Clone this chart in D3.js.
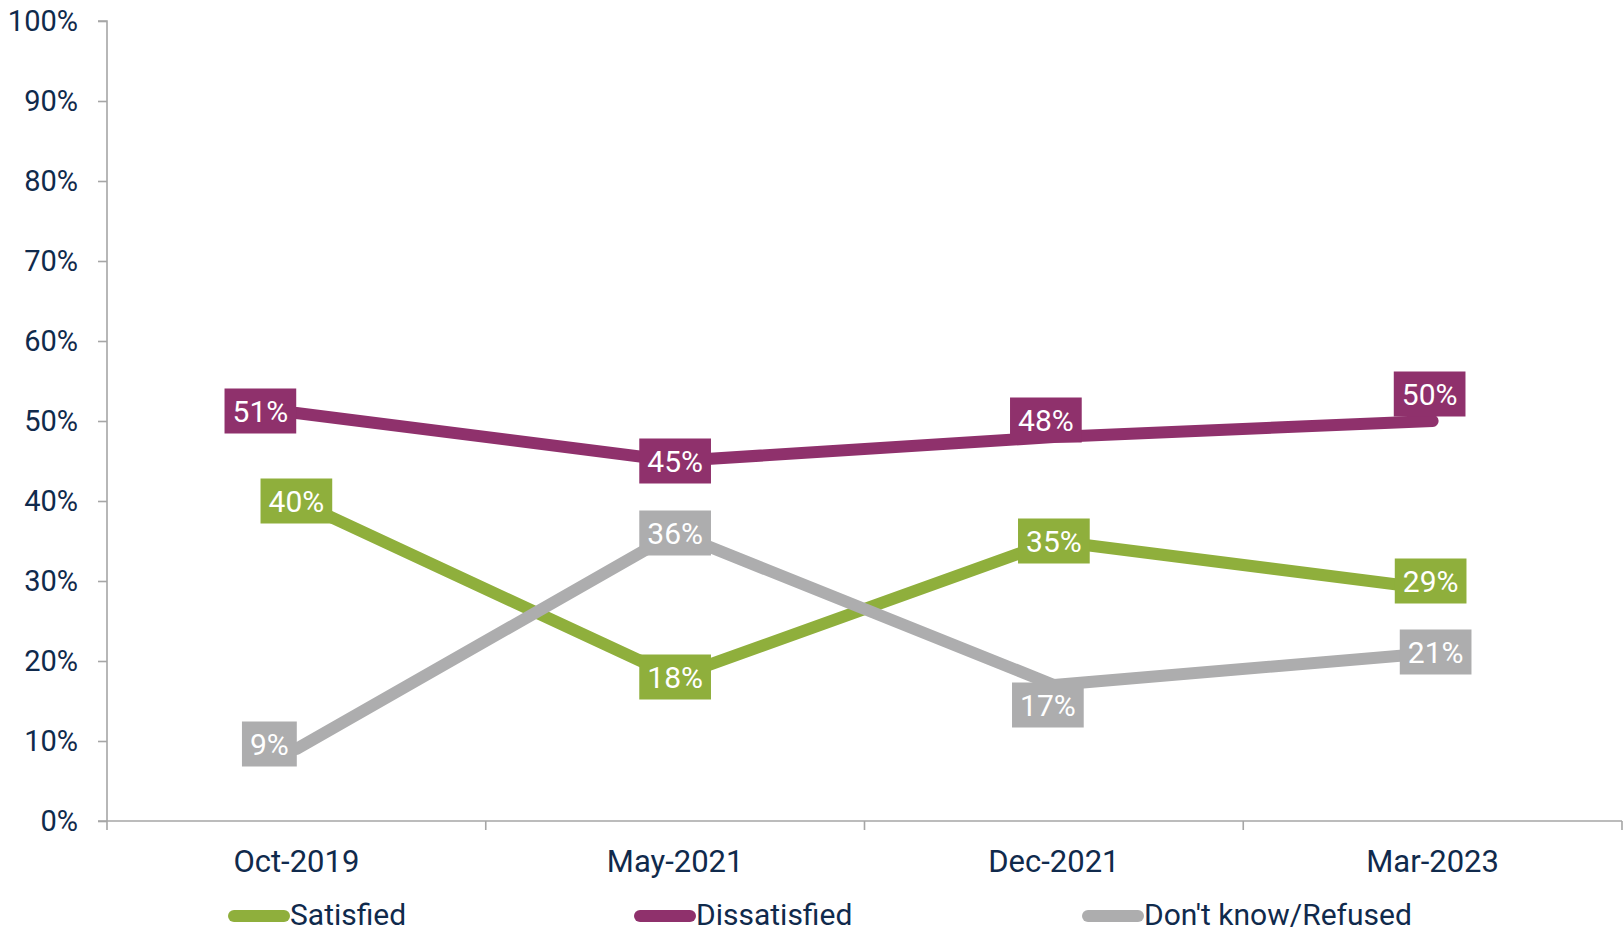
<!DOCTYPE html>
<html>
<head>
<meta charset="utf-8">
<script src="https://cdn.jsdelivr.net/npm/d3@7"></script>
<style>
  html, body { margin: 0; padding: 0; background: #ffffff; }
  svg { display: block; }
  text { font-family: Roboto, "Open Sans", sans-serif; }
</style>
</head>
<body>
<svg id="chart" width="1624" height="933"></svg>
<script>
// ---- data ----
const categories = ["Oct-2019", "May-2021", "Dec-2021", "Mar-2023"];
const seriesNames = ["Satisfied", "Dissatisfied", "Don't know/Refused"];
const satisfied = [0.40, 0.18, 0.35, 0.29];
const dissatisfied = [0.51, 0.45, 0.48, 0.50];
const dontKnow = [0.09, 0.36, 0.17, 0.21];
const yTicks = [0, 0.1, 0.2, 0.3, 0.4, 0.5, 0.6, 0.7, 0.8, 0.9, 1.0];

// ---- styling / layout ----
const colors = ["#8faf3c", "#8f316c", "#adadae"];
const textColor = "#102a4c";
const axisColor = "#a6a6a6";
// manual label offsets (px) as placed in the original
const labelOffsets = [
  [[0, 0], [0, 0], [0, 0], [-2, -8]],
  [[-36, -2], [0, 0], [-8, -17], [-3, -27]],
  [[-27, -5], [0, 0], [-6, 20], [3, -1]]
];

const series = [satisfied, dissatisfied, dontKnow];
const svg = d3.select("#chart");
const plotL = 107, plotR = 1622, plotT = 21, plotB = 821;

const x = d3.scaleBand().domain(categories).range([plotL, plotR]).padding(0);
const y = d3.scaleLinear().domain([0, 1]).range([plotB, plotT]);
const cx = c => x(c) + x.bandwidth() / 2;

// y axis
const yAxis = d3.axisLeft(y).tickValues(yTicks).tickFormat(d3.format(".0%")).tickSize(9).tickPadding(20);
const gy = svg.append("g").attr("transform", `translate(${plotL},0)`).call(yAxis);
gy.select(".domain").attr("stroke", axisColor).attr("stroke-width", 1.6)
  .attr("d", `M-9,${plotT}H0V${plotB}`);
gy.selectAll(".tick line").attr("stroke", axisColor).attr("stroke-width", 1.6);
gy.selectAll(".tick text").attr("fill", textColor).style("font-size", "29px")
  .style("font-family", "Roboto, sans-serif");

// x axis
const gx = svg.append("g");
gx.append("line").attr("x1", plotL - 9).attr("x2", plotR).attr("y1", plotB).attr("y2", plotB)
  .attr("stroke", axisColor).attr("stroke-width", 1.6);
const boundaries = categories.map(c => x(c)).concat([x(categories[categories.length - 1]) + x.bandwidth()]);
gx.selectAll("line.tk").data(boundaries).join("line").attr("class", "tk")
  .attr("x1", d => d).attr("x2", d => d).attr("y1", plotB).attr("y2", plotB + 9)
  .attr("stroke", axisColor).attr("stroke-width", 1.6);
gx.selectAll("text").data(categories).join("text")
  .attr("x", d => cx(d)).attr("y", 872).attr("text-anchor", "middle")
  .attr("fill", textColor).style("font-size", "31px").text(d => d);

// lines
const line = d3.line().x((d, i) => cx(categories[i])).y(d => y(d));
series.forEach((s, si) => {
  svg.append("path").datum(s).attr("d", line).attr("fill", "none")
    .attr("stroke", colors[si]).attr("stroke-width", 12)
    .attr("stroke-linejoin", "round").attr("stroke-linecap", "round");
});

// labels
const fmt = d3.format(".0%");
series.forEach((s, si) => {
  s.forEach((v, i) => {
    const off = labelOffsets[si][i];
    const lx = cx(categories[i]) + off[0];
    const ly = y(v) + off[1];
    const g = svg.append("g").attr("transform", `translate(${lx},${ly})`);
    const t = g.append("text").attr("text-anchor", "middle").attr("dy", "0.36em")
      .attr("fill", "#ffffff").style("font-size", "30px").text(fmt(v));
    const w = t.node().getComputedTextLength() + 16;
    g.insert("rect", "text").attr("x", -w / 2).attr("y", -22.5).attr("width", w).attr("height", 45)
      .attr("fill", colors[si]);
  });
});

// legend
const legendX = [228, 634, 1082];
const legend = svg.append("g");
seriesNames.forEach((n, i) => {
  legend.append("line").attr("x1", legendX[i] + 6).attr("x2", legendX[i] + 56)
    .attr("y1", 916).attr("y2", 916).attr("stroke", colors[i]).attr("stroke-width", 12)
    .attr("stroke-linecap", "round");
  legend.append("text").attr("x", legendX[i] + 62).attr("y", 925).attr("fill", textColor)
    .style("font-size", "30px").text(n);
});
</script>
</body>
</html>
